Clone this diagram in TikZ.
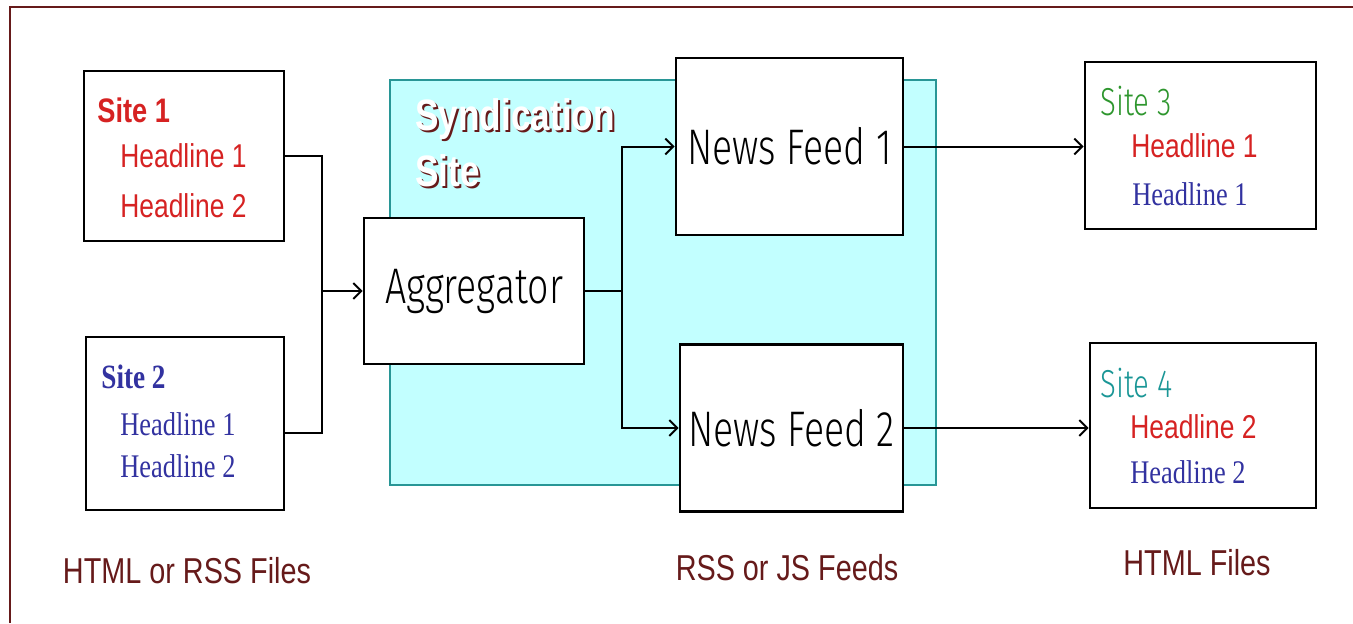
\documentclass[tikz,border=0pt]{standalone}
\usepackage{fontspec}
\setmainfont{Liberation Sans}
\newfontfamily\arialfont[FakeStretch=0.8]{Liberation Sans}
\newfontfamily\timesfont[FakeStretch=0.8]{Liberation Serif}
\newfontfamily\handfont[FakeStretch=0.75]{Fira Sans Light}
\usetikzlibrary{arrows.meta,positioning}
\definecolor{framered}{RGB}{102,26,26}
\definecolor{syndfill}{RGB}{194,255,255}
\definecolor{synddraw}{RGB}{40,150,150}
\definecolor{headred}{RGB}{214,34,34}
\definecolor{headblue}{RGB}{50,50,160}
\definecolor{sitegreen}{RGB}{46,150,46}
\definecolor{siteteal}{RGB}{26,150,150}

\begin{document}
\begin{tikzpicture}[x=0.5pt,y=-0.5pt,
  every node/.style={inner sep=0pt},
  box/.style={draw,line width=1.3pt,fill=white},
  wire/.style={line width=1pt},
  >={Straight Barb[length=4pt,width=8pt]},
  hand/.style={font=\handfont\fontsize{25}{25}\selectfont},
  handsite/.style={anchor=base west,font=\handfont\fontsize{19.5}{19.5}\selectfont},
  arialhl/.style={anchor=base west,text=headred,font=\arialfont\fontsize{16.5}{16.5}\selectfont},
  timeshl/.style={anchor=base west,text=headblue,font=\timesfont\fontsize{16.5}{16.5}\selectfont},
  filelabel/.style={anchor=base,text=framered,font=\arialfont\fontsize{18}{18}\selectfont},
  syndtext/.style={anchor=base west,font=\arialfont\bfseries\fontsize{22}{22}\selectfont}]
\useasboundingbox (0,0) rectangle (1353,623);
\draw[framered,line width=1pt] (10,623) -- (10,7) -- (1353,7);

% syndication area
\node[draw=synddraw,fill=syndfill,line width=1pt,minimum width=273pt,minimum height=202.5pt] (synd) at (663,282.5) {};
\node[syndtext,text=framered] (syndshadow1) at (417,132) {Syndication};
\node[syndtext,text=white] (syndtitle1) at (415,130) {Syndication};
\node[syndtext,text=framered] (syndshadow2) at (417,188) {Site};
\node[syndtext,text=white] (syndtitle2) at (415,186) {Site};

% boxes
\node[box,minimum width=100pt,minimum height=85pt] (site1) at (184,156) {};
\node[box,minimum width=99pt,minimum height=86.5pt] (site2) at (185,423.5) {};
\node[box,hand,minimum width=110pt,minimum height=73pt] (agg) at (474,291) {Aggregator};
\node[box,hand,minimum width=113.5pt,minimum height=88.5pt] (nf1) at (789.5,146.5) {News Feed 1};
\node[box,hand,minimum width=111.5pt,minimum height=83.5pt] (nf2) at (791.5,428) {News Feed 2};
\node[box,minimum width=115.5pt,minimum height=83.5pt] (site3) at (1200.5,145.5) {};
\node[box,minimum width=113pt,minimum height=82.5pt] (site4) at (1203,425.5) {};

% box texts
\node[anchor=base west,text=headred,font=\arialfont\bfseries\fontsize{17}{17}\selectfont] (s1name) at (97,122) {Site 1};
\node[arialhl] (s1h1) at (120,167) {Headline 1};
\node[arialhl] (s1h2) at (120,217) {Headline 2};
\node[anchor=base west,text=headblue,font=\timesfont\bfseries\fontsize{17}{17}\selectfont] (s2name) at (101,388) {Site 2};
\node[timeshl] (s2h1) at (120,435) {Headline 1};
\node[timeshl] (s2h2) at (120,477) {Headline 2};
\node[handsite,text=sitegreen] (s3name) at (1100,115) {Site 3};
\node[arialhl] (s3h1) at (1131,157) {Headline 1};
\node[timeshl] (s3h2) at (1132,205) {Headline 1};
\node[handsite,text=siteteal] (s4name) at (1100,397) {Site 4};
\node[arialhl] (s4h1) at (1130,438) {Headline 2};
\node[timeshl] (s4h2) at (1130,483) {Headline 2};

% connectors
\coordinate (join) at (322,291);
\coordinate (fork) at (622,291);
\draw[wire] (site1.east) -| (join);
\draw[wire] ([yshift=-4.75pt]site2.east) -| (join);
\draw[wire,->] (join) -- (agg.west);
\draw[wire] (agg.east) -- (fork);
\draw[wire,->] (fork) |- (nf1.west);
\draw[wire,->] (fork) |- (nf2.west);
\draw[wire,->] (nf1.east) -- (nf1.east -| site3.west);
\draw[wire,->] (nf2.east) -- (nf2.east -| site4.west);

% labels
\node[filelabel] (lsrc) at (187,583) {HTML or RSS Files};
\node[filelabel] (lfeed) at (787,580) {RSS or JS Feeds};
\node[filelabel] (lout) at (1197,575) {HTML Files};
\end{tikzpicture}
\end{document}
